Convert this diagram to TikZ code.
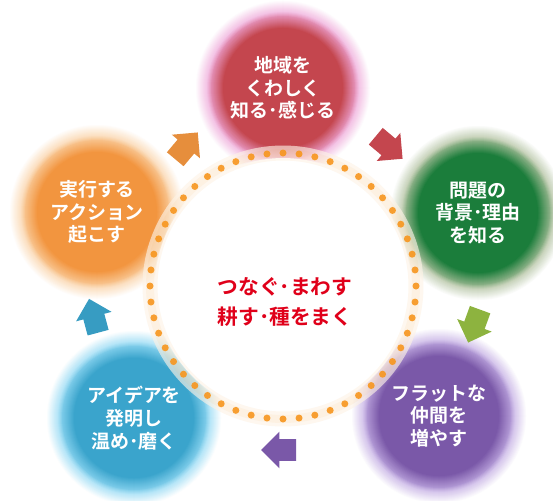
\documentclass[tikz,border=0pt]{standalone}
\usepackage{fontspec}
\newfontfamily\jpfont{Noto Sans CJK JP}[BoldFont={Noto Sans CJK JP Bold}]
\usetikzlibrary{shapes.arrows, backgrounds}

\definecolor{knowcore}{HTML}{C4464E}
\definecolor{knowhalo}{HTML}{EFA9DA}
\definecolor{issuecore}{HTML}{1B7D3B}
\definecolor{issuehalo}{HTML}{B2C2A0}
\definecolor{issuearrowc}{HTML}{8DB33F}
\definecolor{peercore}{HTML}{7A58A8}
\definecolor{peerhalo}{HTML}{C4AEE4}
\definecolor{ideacore}{HTML}{3AA4CC}
\definecolor{ideahalo}{HTML}{94DAF4}
\definecolor{actcore}{HTML}{F2953F}
\definecolor{acthalo}{HTML}{FAD2A6}
\definecolor{ringorange}{HTML}{F7961E}
\definecolor{hubred}{HTML}{E0001A}

% soft disc: white -> halo -> core, one ring per pixel
\newcommand{\stepdisc}[3]{%
  \foreach \k in {0,...,30} {
    \pgfmathtruncatemacro\halow{min(100,\k*100/16)}
    \pgfmathtruncatemacro\corew{max(0,min(100,(\k-11)*100/17))}
    \fill[#2!\corew!#3!\halow!white] (#1) circle ({(88-\k)*0.02cm});
  }}

\begin{document}
\begin{tikzpicture}[
        x = 0.02cm,
        y = -0.02cm,
        stepnode/.style = {circle, minimum size = 3.3cm, inner sep = 0pt, text = white, align = center,
          font = \jpfont\bfseries\fontsize{10.8}{12.9}\selectfont},
        hub/.style = {text = hubred, align = center, font = \jpfont\bfseries\fontsize{11.8}{16.8}\selectfont},
        cyclearrow/.style = {single arrow, minimum height = 0.7cm, inner xsep = 0pt, inner ysep = 0.21cm,
          single arrow head extend = 0.15cm}
      ]
      \useasboundingbox (0,0) rectangle (553,500);

      % the five steps
      \node[stepnode] (know) at (283,88) {地域を\\くわしく\\知る･感じる};
      \node[stepnode] (issue) at (478,213) {問題の\\背景･理由\\を知る};
      \node[stepnode] (peers) at (439,416) {フラットな\\仲間を\\増やす};
      \node[stepnode] (idea) at (134,418) {アイデアを\\発明し\\温め･磨く};
      \node[stepnode] (act) at (97,212) {実行する\\アクション\\起こす};

      \begin{scope}[on background layer]
        \fill[white] (0,0) rectangle (553,500);
        \stepdisc{know}{knowcore}{knowhalo}
        \stepdisc{issue}{issuecore}{issuehalo}
        \stepdisc{peers}{peercore}{peerhalo}
        \stepdisc{idea}{ideacore}{ideahalo}
        \stepdisc{act}{actcore}{acthalo}
      \end{scope}

      % dotted ring
      \coordinate (ring) at (283,286);
      \fill[white] (ring) circle (2.56cm);
      \draw[white, opacity = 0.6, line width = 0.3cm] (ring) circle (2.66cm);
      \draw[ringorange, opacity = 0.07, line width = 0.3cm] (ring) circle (2.66cm);
      \draw[ringorange, opacity = 0.06, line width = 0.16cm] (ring) circle (2.66cm);
      \foreach \i in {0,...,51}
        \fill[ringorange, opacity = 0.9] ([shift = {(\i*6.9231:133)}]ring) circle (0.07cm);

      \node[hub] (center) at (285,302) {つなぐ･まわす\\耕す･種をまく};

      % arrows between the steps
      \node[cyclearrow, fill = actcore!95!black, rotate = 50] (actarrow) at (183,150) {};
      \node[cyclearrow, fill = knowcore, rotate = -40] (knowarrow) at (385,144) {};
      \node[cyclearrow, fill = issuearrowc, rotate = -110] (issuearrow) at (476,321) {};
      \node[cyclearrow, fill = peercore, rotate = 180] (peerarrow) at (284,450) {};
      \node[cyclearrow, fill = ideacore!95!black, rotate = 105] (ideaarrow) at (95,321) {};
    \end{tikzpicture}
\end{document}
